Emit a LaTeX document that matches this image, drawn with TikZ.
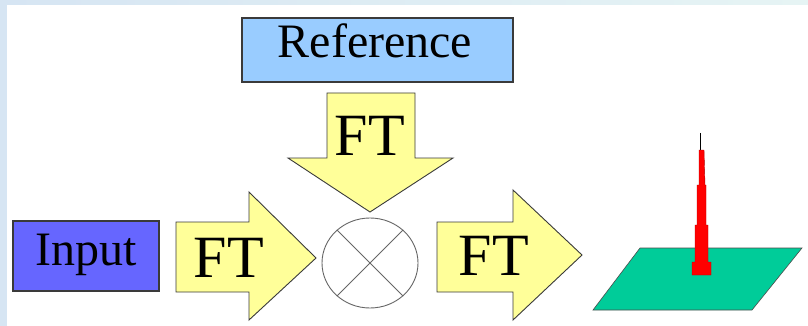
\documentclass[tikz,border=0pt]{standalone}
\usepackage{fontspec}
\setmainfont{Liberation Serif}
\usetikzlibrary{shapes.geometric}
\definecolor{slideA}{HTML}{D6E5F3}
\definecolor{slideB}{HTML}{E6F4F4}
\definecolor{refblue}{HTML}{99CCFF}
\definecolor{inblue}{HTML}{6666FF}
\definecolor{ftyellow}{HTML}{FFFF99}
\definecolor{planegreen}{HTML}{00CC99}
\definecolor{edge}{HTML}{3A3A3A}
\tikzset{
  labelbox/.style={draw=edge, line width=1.2pt},
  bigarrow/.style={fill=ftyellow, draw=edge, line width=0.9pt, line join=miter},
  ftlabel/.style={anchor=base, inner sep=0pt, font=\fontsize{60}{60}\selectfont},
  boxlabel/.style={anchor=base, inner sep=0pt, font=\fontsize{48}{48}\selectfont},
}
\begin{document}
\begin{tikzpicture}[x=1pt, y=-1pt]
  % slide background with white content area
  \useasboundingbox (0,0) rectangle (808,326);
  \shade[left color=slideA, right color=slideB] (0,0) rectangle (808,326);
  \fill[white] (7,5) rectangle (808,326);

  % reference and input boxes
  \path[labelbox, fill=refblue] (242,18) rectangle (513,82);
  \node[boxlabel] (reflabel) at (375,58) {Reference};
  \path[labelbox, fill=inblue] (13,221) rectangle (159,291);
  \node[boxlabel] (inlabel) at (86,265) {Input};

  % downward FT arrow
  \path[bigarrow] (327,93) -- (415,93) -- (415,158) -- (453,158) -- (370,212)
    -- (288,158) -- (327,158) -- cycle;
  \node[ftlabel] (ftdown) at (370,155) {FT};

  % left FT arrow
  \path[bigarrow] (176,222) -- (249,222) -- (249,192) -- (316,258) -- (249,320)
    -- (249,292) -- (176,292) -- cycle;
  \node[ftlabel] (ftleft) at (229,277) {FT};

  % right FT arrow
  \path[bigarrow] (437,222) -- (513,222) -- (513,190) -- (582,255) -- (513,320)
    -- (513,292) -- (437,292) -- cycle;
  \node[ftlabel] (ftright) at (494,275) {FT};

  % multiplier
  \node[ellipse, draw=gray!80!black, line width=0.9pt, minimum width=96pt,
        minimum height=90pt, inner sep=0pt] (mult) at (370,263) {};
  \draw[gray!80!black, line width=0.9pt] (mult.45) -- (mult.225);
  \draw[gray!80!black, line width=0.9pt] (mult.135) -- (mult.315);

  % correlation plane with peak
  \path[fill=planegreen, draw=black!70, line width=0.6pt]
    (593,310) -- (752,310) -- (802,248) -- (640,248) -- cycle;
  \draw[black, line width=1pt] (700,133) -- (700,152);
  \path[fill=red, draw=red!70!black, line width=0.4pt]
    (692,275) -- (711,275) -- (711,262) -- (708,262) -- (708,225)
    -- (706,225) -- (706,185) -- (705,185) -- (704,150) -- (699,150)
    -- (699,185) -- (697,185) -- (697,225) -- (695,225) -- (695,262)
    -- (692,262) -- cycle;
\end{tikzpicture}
\end{document}
